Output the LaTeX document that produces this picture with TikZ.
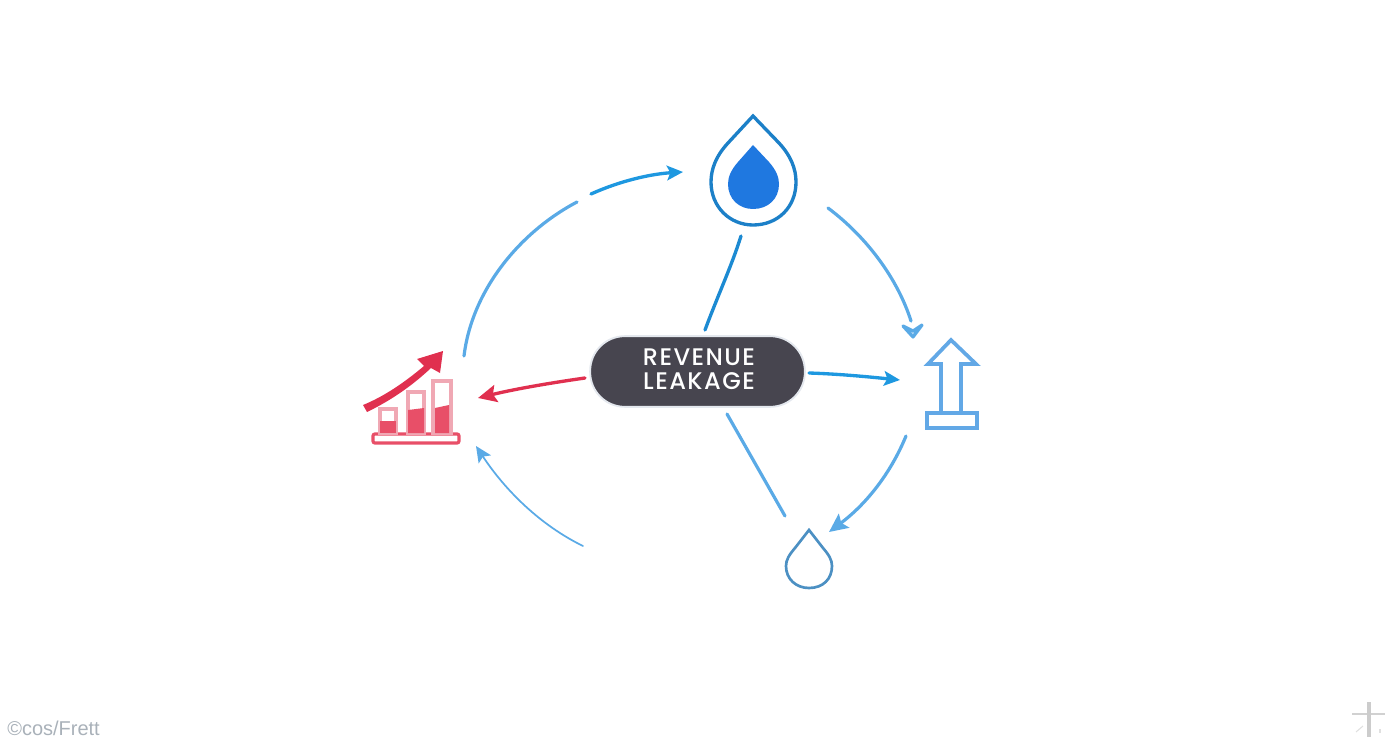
\documentclass[tikz,border=0pt]{standalone}
\usepackage{fontspec}
\setmainfont{Liberation Sans}
\newfontfamily\pillfont[UprightFont=* Medium,LetterSpace=6]{Poppins}
\usetikzlibrary{arrows.meta}
\definecolor{pillgray}{HTML}{47454F}
\definecolor{pillrim}{HTML}{E4E8EE}
\definecolor{dropdark}{HTML}{1C80C8}
\definecolor{connectdark}{HTML}{1C8AD2}
\definecolor{dropfill}{HTML}{1F78E0}
\definecolor{linkblue}{HTML}{1E98E0}
\definecolor{softblue}{HTML}{5AAAE6}
\definecolor{iconblue}{HTML}{62A8E6}
\definecolor{linkred}{HTML}{E0304F}
\definecolor{barpale}{HTML}{F0A8B4}
\definecolor{barfill}{HTML}{E84F68}
\definecolor{markgray}{HTML}{A9B1B9}
\tikzset{
  x=0.75pt,y=-0.75pt,
  pill/.style={fill=pillgray,draw=pillrim,line width=1.4pt,rounded corners=26pt,
    minimum width=161pt,minimum height=53pt,inner sep=0pt},
  pilltext/.style={inner sep=0pt,text=white,align=center,
    font=\pillfont\fontsize{18pt}{18pt}\selectfont},
  link/.style={line width=2.5pt,line cap=round},
  softlink/.style={line width=2.4pt,line cap=round,softblue},
  tip/.style={-{Stealth[length=12pt,width=11pt,inset=2.5pt]}},
  bigtip/.style={-{Stealth[length=14pt,width=13pt,inset=2.5pt]}},
  barframe/.style={draw=barpale,line width=2.4pt,fill=white},
  barlevel/.style={fill=barfill},
  outline/.style={draw=iconblue,line width=2.8pt,line join=miter,fill=white},
}
\begin{document}
\begin{tikzpicture}
\useasboundingbox (0,0) rectangle (1392,752);

% named end points
\coordinate (tA) at (705,330); \coordinate (tB) at (741,236);
\coordinate (rA) at (809,373); \coordinate (rB) at (900,380);
\coordinate (lA) at (585,378); \coordinate (lB) at (478,398);
\coordinate (dA) at (727,414); \coordinate (dB) at (785,516);
\coordinate (a1) at (464,356); \coordinate (a2) at (577,202);
\coordinate (a3) at (591,194); \coordinate (a4) at (683,172);
\coordinate (b1) at (828,208); \coordinate (b2) at (911,321);
\coordinate (c1) at (906,436); \coordinate (c2) at (829,532);
\coordinate (e1) at (583,546); \coordinate (e2) at (476,446);

% centre
\node[pill] (hub) at (697.5,371.5) {};
\node[pilltext] (hubtext) at (699,369.5) {REVENUE\\LEAKAGE};

% top drop
\draw[draw=dropdark,line width=2.5pt,fill=white,line join=miter] (753,116)
  -- (728,143)
  .. controls (716,156) and (711,169) .. (711,182)
  .. controls (711,207) and (730,225) .. (753,225)
  .. controls (778,225) and (796,207) .. (796,182)
  .. controls (796,169) and (791,156) .. (779,143)
  -- cycle;
\fill[dropfill] (753,145)
  -- (738,162)
  .. controls (731,170) and (728,177) .. (728,184)
  .. controls (728,199) and (739,209) .. (753,209)
  .. controls (768,209) and (779,199) .. (779,184)
  .. controls (779,177) and (776,170) .. (769,162)
  -- cycle;

% lower drop
\draw[draw=softblue!85!black,line width=2pt,fill=white] (809,530)
  -- (795,548)
  .. controls (789,555) and (786,560) .. (786,566)
  .. controls (786,579) and (796,588) .. (809,588)
  .. controls (823,588) and (832,579) .. (832,566)
  .. controls (832,560) and (829,555) .. (823,548)
  -- cycle;

% up arrow icon
\draw[outline] (951,340) -- (976,364) -- (961,364) -- (961,413) -- (941,413) -- (941,364) -- (928,364) -- cycle;
\draw[outline] (927,413) rectangle (977,428);

% bar chart icon
\draw[draw=barfill,line width=2.4pt,fill=white,rounded corners=1.5pt] (373,434) rectangle (459,443);
\draw[barframe] (380,409) rectangle (396,433);
\fill[barlevel] (380,421) -- (396,421) -- (396,433) -- (380,433) -- cycle;
\draw[barframe] (408,392) rectangle (424,433);
\fill[barlevel] (408,410) -- (424,408) -- (424,433) -- (408,433) -- cycle;
\draw[barframe] (433,381) rectangle (451,433);
\fill[barlevel] (435,408) -- (449,405) -- (449,433) -- (435,433) -- cycle;
\fill[linkred] (363,405) .. controls (385,396) and (405,382) .. (424,366)
  -- (417,359) -- (443,351) -- (440,373) -- (431,368)
  .. controls (412,386) and (390,401) .. (367,412) -- cycle;

% connectors
\draw[link,connectdark] (tA) .. controls (718,295) and (732,265) .. (tB);
\draw[link,linkblue,tip] (rA) .. controls (840,374) and (870,377) .. (rB);
\draw[link,linkred,bigtip] (lA) .. controls (550,383) and (515,389) .. (lB);
\draw[softlink] (dA) -- (dB);
\draw[softlink] (a1) .. controls (472,290) and (520,232) .. (a2);
\draw[link,linkblue,tip] (a3) .. controls (620,181) and (650,174) .. (a4);
\draw[softlink] (b1) .. controls (868,238) and (898,280) .. (b2);
\draw[line width=2.4pt,softblue,line join=round,line cap=round,fill=softblue!45] (903,326) -- (913,337) -- (922,325) -- (913,331) -- cycle;
\draw[softlink,bigtip] (c1) .. controls (890,475) and (865,505) .. (c2);
\draw[line width=1.3pt,line cap=round,softblue,tip] (e1) .. controls (540,525) and (505,490) .. (e2);

% watermark
\node[anchor=west,inner sep=0pt,text=markgray,font=\fontsize{15pt}{17pt}\selectfont] (mark) at (7,728) {©cos/Frett};
\coordinate (cross) at (1369,717);
\draw[draw=black!18,line width=2.2pt] (cross) ++(-17,-3) -- ++(33,0);
\draw[draw=black!20,line width=2.6pt] (cross) ++(0,-15) -- ++(0,35);
\draw[draw=black!12,line width=0.8pt] (1356,732) -- (1363,726);
\draw[draw=black!12,line width=1pt] (1380,729) -- (1380,733);
\end{tikzpicture}
\end{document}
